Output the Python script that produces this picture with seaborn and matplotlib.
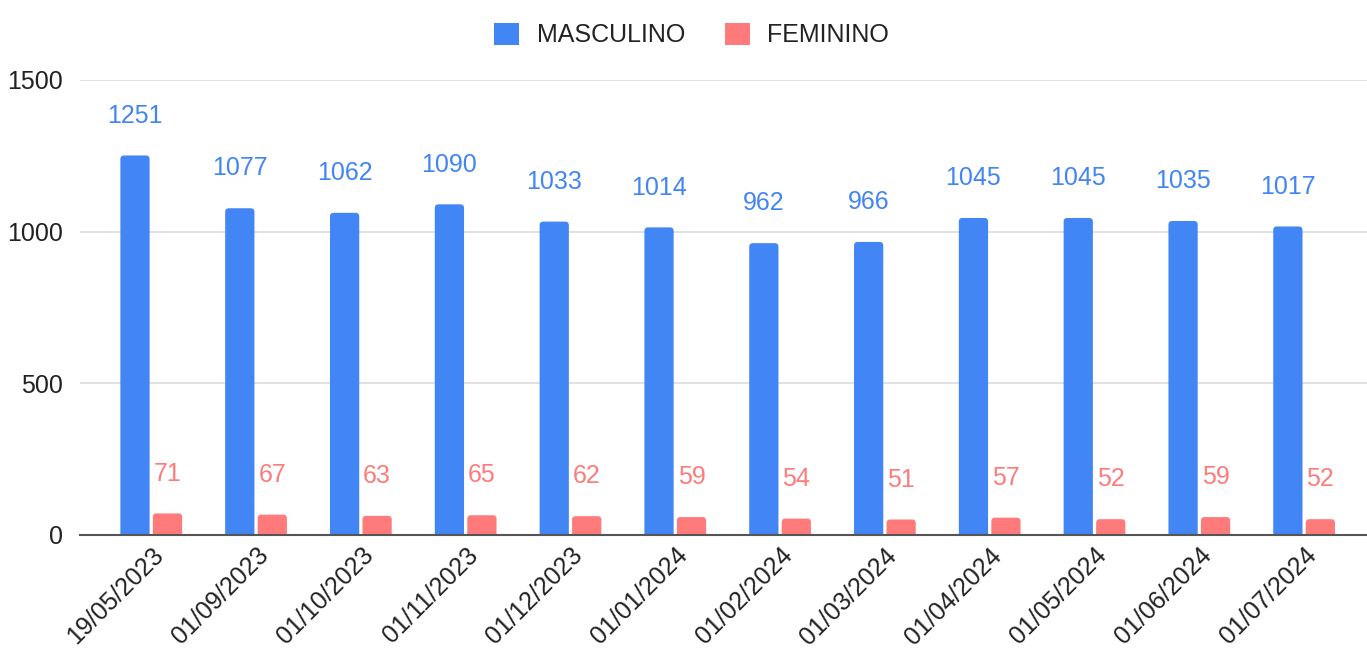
import pandas as pd
import seaborn as sns
import matplotlib.pyplot as plt
from matplotlib.patches import Patch, FancyBboxPatch

dates = ["19/05/2023", "01/09/2023", "01/10/2023", "01/11/2023", "01/12/2023", "01/01/2024",
         "01/02/2024", "01/03/2024", "01/04/2024", "01/05/2024", "01/06/2024", "01/07/2024"]
masculino = [1251, 1077, 1062, 1090, 1033, 1014, 962, 966, 1045, 1045, 1035, 1017]
feminino = [71, 67, 63, 65, 62, 59, 54, 51, 57, 52, 59, 52]
series = ["MASCULINO", "FEMININO"]
colors = ["#4285f4", "#ff7b7b"]

df = pd.DataFrame({
    "data": dates * 2,
    "valor": masculino + feminino,
    "sexo": [series[0]] * len(dates) + [series[1]] * len(dates),
})

sns.set_theme(style="white")
plt.rcParams['font.family'] = ['Liberation Sans', 'DejaVu Sans']

fig = plt.figure(figsize=(13.67, 6.5), dpi=100)
ax = fig.add_axes([0.0585, 0.177, 0.9415, 0.7])

sns.barplot(data=df, x="data", y="valor", hue="sexo", palette=colors,
            width=0.62, gap=0.1, ax=ax, legend=False, saturation=1)

for cont, c in zip(ax.containers, colors):
    ax.bar_label(cont, padding=20, color=c, fontsize=18)

ax.set_ylim(0, 1500)
ax.set_xlim(-0.68, 11.6)

# rounded tops on the bars
aspect = (1500 / 455) / (1 / 105)
rad = 0.035
for cont in ax.containers:
    for p in cont.patches:
        x, w, h = p.get_x(), p.get_width(), p.get_height()
        off = rad * aspect
        fb = FancyBboxPatch((x, -off), w, h + off,
                            boxstyle=f"round,pad=0,rounding_size={rad}",
                            mutation_aspect=aspect, facecolor=p.get_facecolor(),
                            edgecolor="none", zorder=p.get_zorder())
        ax.add_patch(fb)
        p.set_visible(False)

ax.set_yticks([0, 500, 1000, 1500])
ax.yaxis.grid(True, color="#dcdcdc", linewidth=1.2)
ax.set_axisbelow(True)
for s in ["top", "right", "left"]:
    ax.spines[s].set_visible(False)
ax.spines["bottom"].set_color("#555555")
ax.spines["bottom"].set_linewidth(1.5)
ax.spines["bottom"].set_zorder(5)
ax.set_xlabel("")
ax.set_ylabel("")
ax.tick_params(axis="y", length=0, pad=12, labelsize=18, labelcolor="#222222")
ax.tick_params(axis="x", length=0, pad=6, labelsize=18, labelcolor="#222222")
plt.setp(ax.get_xticklabels(), rotation=45, ha="right", rotation_mode="anchor")

handles = [Patch(facecolor=c, edgecolor="none") for c in colors]
fig.legend(handles, series, loc="upper center", bbox_to_anchor=(0.506, 1.0), ncol=2,
           frameon=False, fontsize=18, handlelength=1.0, handleheight=1.0,
           handletextpad=0.7, columnspacing=1.6, labelcolor="#222222")

fig.savefig("out.png", dpi=100)
